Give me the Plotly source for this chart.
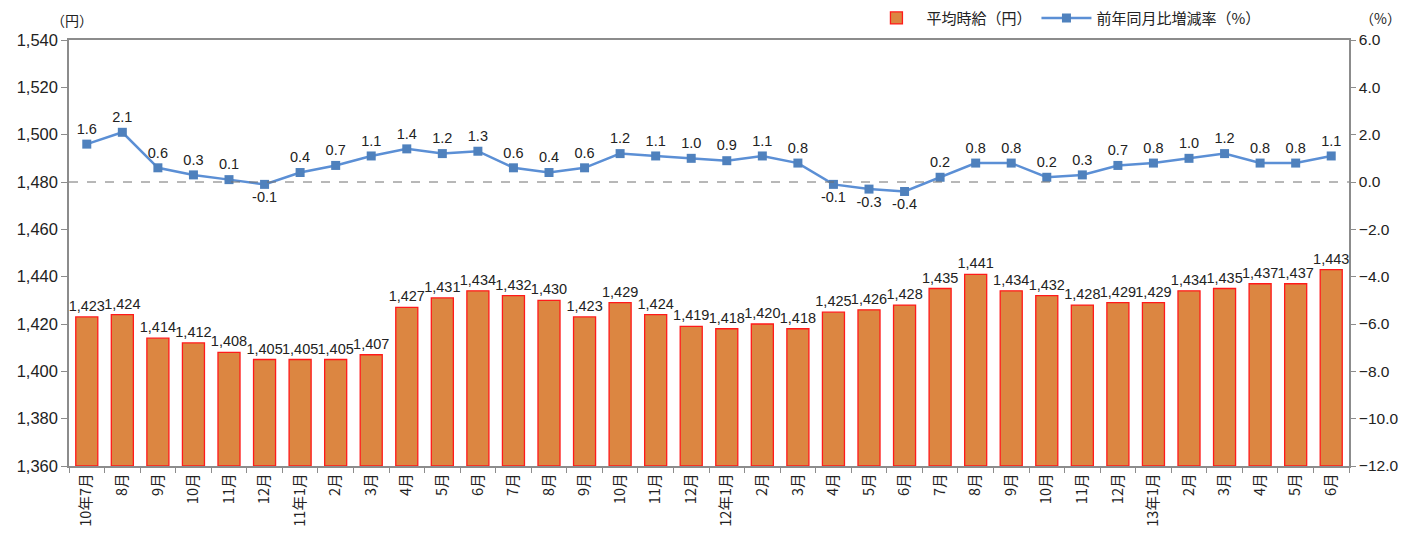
import plotly.graph_objects as go

categories = ["10年7月", "8月", "9月", "10月", "11月", "12月",
              "11年1月", "2月", "3月", "4月", "5月", "6月", "7月", "8月", "9月", "10月", "11月", "12月",
              "12年1月", "2月", "3月", "4月", "5月", "6月", "7月", "8月", "9月", "10月", "11月", "12月",
              "13年1月", "2月", "3月", "4月", "5月", "6月"]
wage = [1423, 1424, 1414, 1412, 1408, 1405, 1405, 1405, 1407, 1427, 1431, 1434,
        1432, 1430, 1423, 1429, 1424, 1419, 1418, 1420, 1418, 1425, 1426, 1428,
        1435, 1441, 1434, 1432, 1428, 1429, 1429, 1434, 1435, 1437, 1437, 1443]
rate = [1.6, 2.1, 0.6, 0.3, 0.1, -0.1, 0.4, 0.7, 1.1, 1.4, 1.2, 1.3,
        0.6, 0.4, 0.6, 1.2, 1.1, 1.0, 0.9, 1.1, 0.8, -0.1, -0.3, -0.4,
        0.2, 0.8, 0.8, 0.2, 0.3, 0.7, 0.8, 1.0, 1.2, 0.8, 0.8, 1.1]

# unique x keys so repeated month names stay separate categories
xkeys = list(range(len(categories)))

FONT = "Liberation Sans, Arial, Noto Sans CJK JP, sans-serif"
CJK = "Noto Sans CJK JP, Liberation Sans, sans-serif"

fig = go.Figure()
fig.add_trace(go.Bar(
    x=xkeys, y=[w - 1360 for w in wage], base=1360,
    name="平均時給（円）",
    marker=dict(color="#DC8641", line=dict(color="#FF1A1A", width=1.3)),
    text=[f"{w:,}" for w in wage], textposition="outside",
    textfont=dict(size=14.5, color="#222", family=FONT),
    constraintext="none", cliponaxis=False,
    hoverinfo="skip",
))
fig.add_trace(go.Scatter(
    x=xkeys, y=rate, yaxis="y2", name="前年同月比増減率（%）",
    mode="lines+markers+text",
    line=dict(color="#5B8FD5", width=2.5),
    marker=dict(symbol="square", size=9, color="#4F81BD"),
    text=[f"{r:.1f}" for r in rate],
    textposition=["top center" if r >= 0 else "bottom center" for r in rate],
    textfont=dict(size=14.5, color="#222", family=FONT),
    cliponaxis=False,
))

fig.add_shape(type="line", xref="paper", x0=0, x1=1, yref="y2", y0=0, y1=0,
              line=dict(color="#707070", width=1, dash="dash"))

fig.update_layout(
    width=1399, height=532,
    margin=dict(l=61, r=58, t=32, b=74, autoexpand=False),
    plot_bgcolor="white", paper_bgcolor="white",
    bargap=0.38,
    font=dict(family=FONT, size=16, color="#222"),
    showlegend=True,
    legend=dict(orientation="h", x=0.623, y=1.09, yanchor="top", xanchor="left",
                font=dict(family=CJK, size=15), itemwidth=50, traceorder="normal",
                bgcolor="rgba(0,0,0,0)"),
    xaxis=dict(
        type="category", tickmode="array", tickvals=xkeys, ticktext=categories,
        tickangle=-90, tickfont=dict(family=CJK, size=14.5),
        showline=True, linecolor="#8C8C8C", linewidth=1.5, mirror=True,
        ticks="outside", tickson="boundaries", ticklen=5, tickcolor="#8C8C8C",
        showgrid=False, range=[-0.5, len(xkeys) - 0.5],
    ),
    yaxis=dict(
        range=[1360, 1540], tickvals=list(range(1360, 1541, 20)),
        tickformat=",", showgrid=False, zeroline=False,
        showline=True, linecolor="#8C8C8C", linewidth=1.5,
        ticks="outside", ticklen=6, tickcolor="#8C8C8C",
        tickfont=dict(size=16.5),
    ),
    yaxis2=dict(
        range=[-12, 6], tickvals=[-12, -10, -8, -6, -4, -2, 0, 2, 4, 6],
        tickformat=".1f", overlaying="y", side="right",
        showgrid=False, zeroline=False,
        showline=True, linecolor="#8C8C8C", linewidth=1.5,
        ticks="outside", ticklen=5, tickcolor="#8C8C8C",
        tickfont=dict(size=15.5),
    ),
    annotations=[
        dict(text="（円）", xref="paper", yref="paper", x=0.0, y=1.0, xshift=3, yshift=8,
             showarrow=False, font=dict(family=CJK, size=14), xanchor="center", yanchor="bottom"),
        dict(text="（%）", xref="paper", yref="paper", x=1.0, y=1.0, xshift=54, yshift=10,
             showarrow=False, font=dict(family=CJK, size=14), xanchor="right", yanchor="bottom"),
    ],
)

fig.write_html("out.html")
